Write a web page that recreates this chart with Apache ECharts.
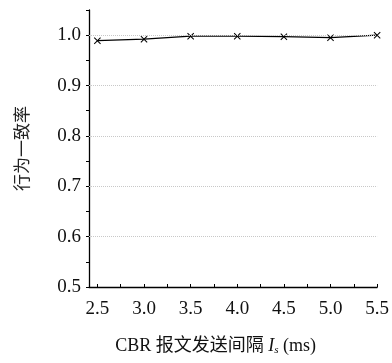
<!DOCTYPE html>
<html>
<head>
<meta charset="utf-8">
<script src="https://cdn.jsdelivr.net/npm/echarts@6/dist/echarts.min.js"></script>
<style>
html,body{margin:0;padding:0;background:#fff;}
#chart{width:392px;height:363px;}
</style>
</head>
<body>
<div id="chart"></div>
<script>
// interval I_s (ms) and consistency rate
var intervals = [2.5, 3.0, 3.5, 4.0, 4.5, 5.0, 5.5];
var consistency = [0.989, 0.992, 0.998, 0.998, 0.997, 0.995, 1.0];
var xLabels = [2.5, 3.0, 3.5, 4.0, 4.5, 5.0, 5.5];
var xTicks = [2.5, 2.75, 3.0, 3.25, 3.5, 3.75, 4.0, 4.25, 4.5, 4.75, 5.0, 5.25, 5.5];
var gridValues = [0.6, 0.7, 0.8, 0.9, 1.0];

var serif = '"Liberation Serif","Times New Roman","Noto Sans CJK SC",serif';
var chart = echarts.init(document.getElementById('chart'));

var pts = intervals.map(function (x, i) { return [x, consistency[i]]; });

chart.setOption({
    backgroundColor: '#fff',
    animation: false,
    grid: { left: 89, right: 10, top: 10, bottom: 76 },
    xAxis: {
        type: 'value',
        min: 2.41,
        max: 5.5,
        name: '{a|CBR 报文发送间隔 }{i|I}{s|s}{a| (ms)}',
        nameLocation: 'middle',
        nameGap: 50,
        nameTextStyle: {
            padding: [0, 35, 0, 0],
            rich: {
                a: { fontFamily: serif, fontSize: 18, color: '#111' },
                i: { fontFamily: serif, fontSize: 18, fontStyle: 'italic', color: '#111' },
                s: { fontFamily: serif, fontSize: 11, fontStyle: 'italic', color: '#111', padding: [8, 0, 0, 0] }
            }
        },
        axisLine: { show: true, onZero: false, lineStyle: { color: '#000', width: 1.3 } },
        axisTick: { show: true, inside: true, length: 3, customValues: xTicks, lineStyle: { color: '#000' } },
        axisLabel: {
            customValues: xLabels,
            margin: 13,
            fontFamily: serif, fontSize: 19, color: '#111',
            formatter: function (v) { return v.toFixed(1); }
        },
        splitLine: { show: false }
    },
    yAxis: {
        type: 'value',
        min: 0.5,
        max: 1.05,
        interval: 0.05,
        name: '行为一致率',
        nameLocation: 'middle',
        nameGap: 57,
        nameTextStyle: { fontFamily: serif, fontSize: 17, color: '#222' },
        axisLine: { show: true, onZero: false, lineStyle: { color: '#000', width: 1.3 } },
        axisTick: { show: true, length: 3, lineStyle: { color: '#000' } },
        axisLabel: {
            margin: 8,
            fontFamily: serif, fontSize: 19, color: '#111',
            formatter: function (v) {
                var k = Math.round(v * 100);
                return (k % 10 === 0 && k <= 100) ? (k / 100).toFixed(1) : '';
            }
        },
        splitLine: { show: false }
    },
    series: [{
        type: 'line',
        data: pts,
        symbol: 'path://M0,1L1,0L5,4L9,0L10,1L6,5L10,9L9,10L5,6L1,10L0,9L4,5Z',
        symbolSize: 7,
        itemStyle: { color: '#000' },
        lineStyle: { color: '#000', width: 1.2 },
        markLine: {
            silent: true,
            symbol: 'none',
            label: { show: false },
            lineStyle: { color: '#c8c8c8', type: 'dotted', width: 1 },
            data: gridValues.map(function (v) { return { yAxis: v }; })
        },
        z: 3
    }]
});
</script>
</body>
</html>
